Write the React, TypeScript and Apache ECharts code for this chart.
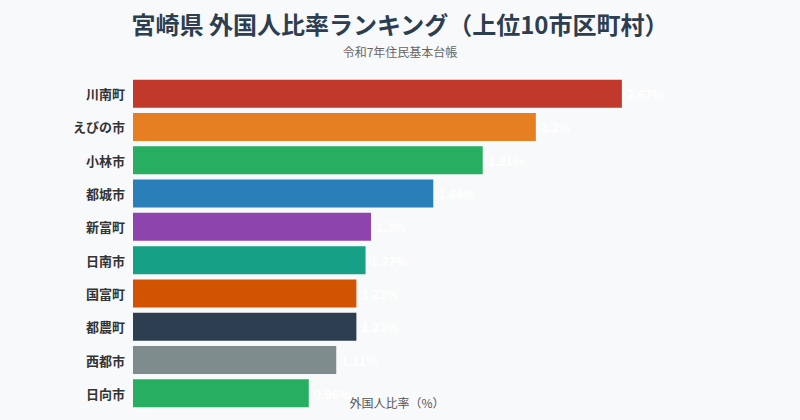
import React, { useEffect, useRef } from "react";
import * as echarts from "echarts";

const categories = ["川南町", "えびの市", "小林市", "都城市", "新富町", "日南市", "国富町", "都農町", "西都市", "日向市"];
const values = [2.67, 2.2, 1.91, 1.64, 1.3, 1.27, 1.22, 1.22, 1.11, 0.96];
const colors = ["#c0392b", "#e67e22", "#27ae60", "#2980b9", "#8e44ad", "#16a085", "#d35400", "#2c3e50", "#7f8c8d", "#27ae60"];

const FONT = "'Noto Sans CJK JP', 'Noto Sans', sans-serif";

export default function App() {
  const ref = useRef<HTMLDivElement>(null);
  useEffect(() => {
    document.body.style.margin = "0";
    const chart = echarts.init(ref.current!, null, { renderer: "svg" });
    chart.setOption({
      animation: false,
      backgroundColor: "#f8f9fa",
      textStyle: { fontFamily: FONT },
      title: {
        text: "宮崎県 外国人比率ランキング（上位10市区町村）",
        subtext: "令和7年住民基本台帳",
        left: "center",
        top: 6,
        itemGap: 11,
        textStyle: { fontSize: 24, fontWeight: "bold", color: "#2c3e50", fontFamily: FONT },
        subtextStyle: { fontSize: 12, color: "#666", fontFamily: FONT },
      },
      grid: { left: 133, right: 139, top: 77, bottom: 10 },
      xAxis: {
        type: "value",
        max: (v: any) => v.max * 1.08,
        name: "外国人比率（%）",
        nameLocation: "middle",
        nameGap: -14,
        nameTextStyle: { fontSize: 12, color: "#555", fontFamily: FONT },
        axisLabel: { show: false },
        axisLine: { show: false },
        axisTick: { show: false },
        splitLine: { show: false },
      },
      yAxis: {
        type: "category",
        data: categories,
        inverse: true,
        axisLine: { show: false },
        axisTick: { show: false },
        axisLabel: { fontSize: 13, fontWeight: "bold", color: "#333", margin: 8, fontFamily: FONT },
      },
      series: [
        {
          type: "bar",
          data: values.map((v, i) => ({ value: v, itemStyle: { color: colors[i] } })),
          barCategoryGap: "16%",
          label: {
            show: true,
            position: "right",
            distance: 5,
            color: "#ffffff",
            fontSize: 12,
            fontWeight: "bold",
            formatter: (p: any) => `${p.value}%`,
            fontFamily: FONT,
          },
        },
      ],
    });
    return () => chart.dispose();
  }, []);
  return <div ref={ref} style={{ width: 800, height: 420 }} />;
}
